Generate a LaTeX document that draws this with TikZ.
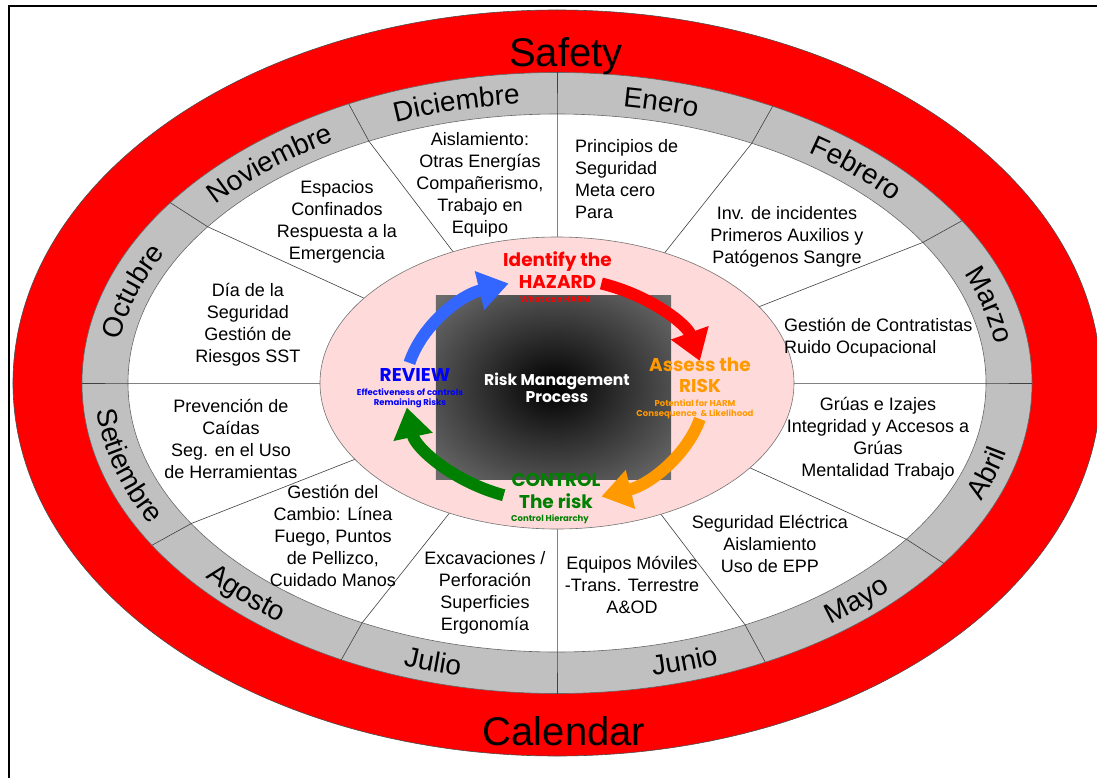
\documentclass[tikz,border=0pt]{standalone}
\usepackage{fontspec}
\setmainfont{Liberation Sans}
\newfontfamily\gothic{Poppins}
\usetikzlibrary{decorations.text,arrows.meta}
\definecolor{ringgray}{RGB}{192,192,192}
\definecolor{pinkfill}{RGB}{255,218,218}
\definecolor{orng}{RGB}{255,153,0}
\definecolor{grn}{RGB}{0,128,0}
\definecolor{bluearr}{RGB}{51,102,255}
\definecolor{bluetext}{RGB}{0,0,255}
\pgfdeclareradialshading{rmpshade}{\pgfpoint{0bp}{0bp}}{color(0bp)=(black); color(16bp)=(black!80); color(34bp)=(black!58); color(50bp)=(black!50); color(72bp)=(black!48)}
\newcommand\monthfont{\fontsize{28}{28}\selectfont}
\tikzset{
  itext/.style={font=\fontsize{18}{22}\selectfont, align=center, inner sep=0pt},
  divider/.style={draw=black!75, line width=0.6pt},
  bigarrow/.style={line width=12pt, -{Triangle[width=38pt,length=30pt]}},
  headtext/.style={font=\gothic\bfseries\fontsize{18.5}{21.5}\selectfont, align=center, inner sep=0pt},
  smalltext/.style={font=\gothic\bfseries\fontsize{8.5}{10.5}\selectfont, align=center, inner sep=0pt},
  monthtxt/.style={decorate, decoration={text along path, text align=center, text={|\monthfont|#1}}},
  bigtxt/.style={font=\fontsize{40}{40}\selectfont, anchor=base, inner sep=0pt}
}
\begin{document}
\begin{tikzpicture}[x=1pt,y=1pt]
\useasboundingbox (-557,-394) rectangle (540,383);
\fill[white] (-557,-394) rectangle (540,383);
% frame
\draw[line width=2pt] (-548,-420) -- (-548,377) -- (560,377);
% ellipses
\draw[fill=red, draw=black!70, line width=0.6pt] (0,0) ellipse [x radius=544, y radius=373];
\draw[fill=ringgray, draw=black!60, line width=0.6pt] (0,0) ellipse [x radius=475, y radius=310.5];
\draw[fill=white, draw=black!60, line width=0.6pt] (0,0) ellipse [x radius=429, y radius=269];
% dividers
\foreach \a in {0,31.5,63,90,116,144.5,180,211.5,243,270,296,324.5}
  \draw[divider] (\a:237 and 146) -- (\a:429 and 269) -- (\a:475 and 310.5);
% pink centre
\draw[fill=pinkfill, draw=black!55, line width=0.6pt] (0,0) ellipse [x radius=237, y radius=146];
\shade[shading=rmpshade] (-121,88) rectangle (114,-96);
% month names (top: clockwise, bottom: counter-clockwise)
\path[monthtxt=Octubre] (199.5:442 and 280) arc[start angle=199.5, end angle=129.5, x radius=442, y radius=280];
\path[monthtxt=Noviembre] (169:442 and 280) arc[start angle=169, end angle=99, x radius=442, y radius=280];
\path[monthtxt=Diciembre] (139.5:442 and 280) arc[start angle=139.5, end angle=69.5, x radius=442, y radius=280];
\path[monthtxt=Enero] (110:442 and 280) arc[start angle=110, end angle=40, x radius=442, y radius=280];
\path[monthtxt=Febrero] (79:442 and 280) arc[start angle=79, end angle=9, x radius=442, y radius=280];
\path[monthtxt=Marzo] (48:442 and 280) arc[start angle=48, end angle=-22, x radius=442, y radius=280];
\path[monthtxt=Setiembre] (159.5:462 and 299.5) arc[start angle=159.5, end angle=229.5, x radius=462, y radius=299.5];
\path[monthtxt=Agosto] (188:462 and 299.5) arc[start angle=188, end angle=258, x radius=462, y radius=299.5];
\path[monthtxt=Julio] (217.5:462 and 299.5) arc[start angle=217.5, end angle=287.5, x radius=462, y radius=299.5];
\path[monthtxt=Junio] (253:462 and 299.5) arc[start angle=253, end angle=323, x radius=462, y radius=299.5];
\path[monthtxt=Mayo] (280:462 and 299.5) arc[start angle=280, end angle=350, x radius=462, y radius=299.5];
\path[monthtxt=Abril] (309.5:462 and 299.5) arc[start angle=309.5, end angle=379.5, x radius=462, y radius=299.5];
% big labels
\node[bigtxt] (safety) at (9,316) {Safety};
\node[bigtxt] (calendar) at (7,-362) {Calendar};
% sector texts
\node[itext] (dic) at (-77,198) {Aislamiento:\\Otras Energías\\Compañerismo,\\Trabajo en\\Equipo};
\node[itext, align=left, anchor=west] (ene) at (18,204) {Principios de\\Seguridad\\Meta cero\\Para};
\node[itext] (feb) at (230,146) {Inv. de incidentes\\Primeros Auxilios y\\Patógenos Sangre};
\node[itext, align=left, anchor=west] (mar) at (227,45) {Gestión de Contratistas\\Ruido Ocupacional};
\node[itext] (abr) at (321,-56) {Grúas e Izajes\\Integridad y Accesos a\\Grúas\\Mentalidad Trabajo};
\node[itext] (may) at (213,-161) {Seguridad Eléctrica\\Aislamiento\\Uso de EPP};
\node[itext] (jun) at (75,-202) {Equipos Móviles\\-Trans. Terrestre\\A\&OD};
\node[itext] (jul) at (-72,-210) {Excavaciones /\\Perforación\\Superficies\\Ergonomía};
\node[itext] (ago) at (-224,-153) {Gestión del\\Cambio: Línea\\Fuego, Puntos\\de Pellizco,\\Cuidado Manos};
\node[itext] (set) at (-326,-56) {Prevención de\\Caídas\\Seg. en el Uso\\de Herramientas};
\node[itext] (oct) at (-309,58) {Día de la\\Seguridad\\Gestión de\\Riesgos SST};
\node[itext] (nov) at (-220,161) {Espacios\\Confinados\\Respuesta a la\\Emergencia};
% cycle arrows
\begin{scope}[shift={(-2,-7)}]
\draw[bigarrow, red] (72:150 and 112) arc[start angle=72, end angle=15, x radius=150, y radius=112];
\draw[bigarrow, orng] (-15:150 and 112) arc[start angle=-15, end angle=-72, x radius=150, y radius=112];
\draw[bigarrow, grn] (-110:150 and 112) arc[start angle=-110, end angle=-171, x radius=150, y radius=112];
\draw[bigarrow, bluearr] (166:150 and 112) arc[start angle=166, end angle=108, x radius=150, y radius=112];
\end{scope}
% centre texts
\node[font=\gothic\bfseries\fontsize{15.6}{16.5}\selectfont, text=white, align=center, inner sep=0pt] (rmp) at (0,-5) {Risk Management\\Process};
\node[headtext, text=red] (haz) at (0.5,113) {Identify the\\HAZARD};
\node[smalltext, text=red] (harm) at (-2,84) {What can HARM};
\node[headtext, text=orng] (assess) at (143,8) {Assess the\\RISK};
\node[smalltext, text=orng] (pot) at (138,-26) {Potential for HARM\\Consequence \ \& Likelihood};
\node[headtext, text=grn] (ctrl) at (-1,-108) {CONTROL\\The risk};
\node[smalltext, text=grn] (hier) at (-7,-136) {Control Hierarchy};
\node[headtext, text=bluetext] (rev) at (-142,8) {REVIEW};
\node[smalltext, text=bluetext] (eff) at (-147,-15.5) {Effectiveness of controls\\Remaining Risks};
\end{tikzpicture}
\end{document}
